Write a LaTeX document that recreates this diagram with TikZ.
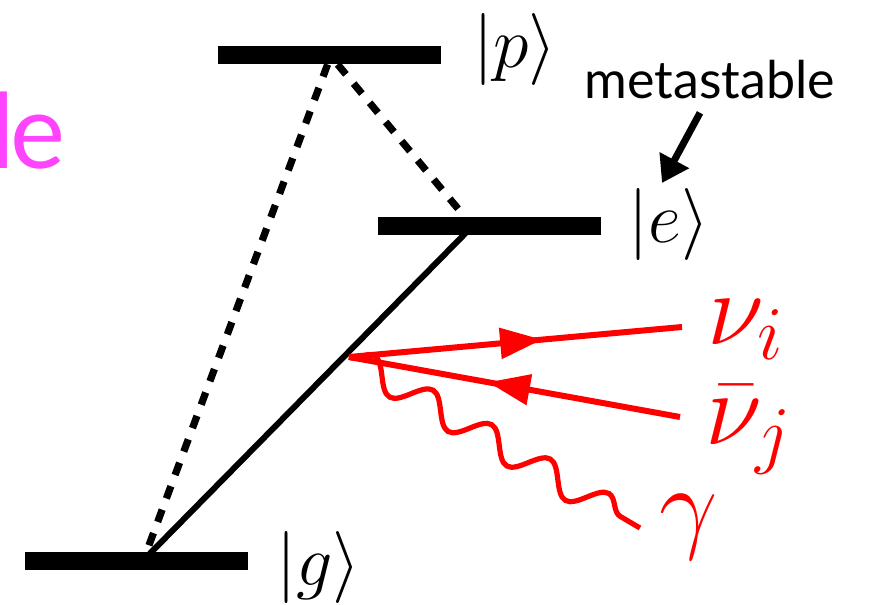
\RequirePackage{fix-cm}
\documentclass[tikz,border=0pt]{standalone}
\usepackage{amsmath}
\usepackage{fontspec}
\newfontfamily\gillish{Lato}
\usepackage{tikz}
\usetikzlibrary{arrows.meta,decorations.pathmorphing,decorations.markings,calc}
\definecolor{slidepink}{HTML}{FF44FF}
\DeclareMathSizes{52}{52}{38}{30}

\begin{document}
\begin{tikzpicture}[x=0.5pt,y=-0.5pt,
		level/.style={fill=black,inner sep=0pt,minimum width=111.5pt,minimum height=9pt},
		ket/.style={font=\fontsize{36}{40}\selectfont,anchor=base west,inner sep=0pt},
		particle/.style={red,font=\fontsize{52}{56}\selectfont,anchor=base west,inner sep=0pt},
		decay/.style={line width=3.6pt,dash pattern=on 6.5pt off 6pt},
		fermion/.style={red,line width=3pt,postaction={decorate},
			decoration={markings,mark=at position #1 with {\arrow{Triangle[length=21pt,width=15pt]}}}},
		photon/.style={red,line width=2.6pt,decorate,decoration={snake,segment length=34pt,amplitude=7pt}}]
			\useasboundingbox (0,0) rectangle (873,605);
			\node[font=\gillish\fontsize{52}{56}\selectfont,text=slidepink,anchor=base east,inner sep=0pt] (title) at (66,168) {l\kern-2pt e};
			\node[level] (p) at (329.5,55) {};
			\node[level] (e) at (489.5,226) {};
			\node[level] (g) at (136.5,561) {};
			\node[ket] (pket) at (473,67) {$|p\rangle$};
			\node[ket] (eket) at (628,242) {$|e\rangle$};
			\node[ket] (gket) at (276,585) {$|g\rangle$};
			\node[font=\gillish\fontsize{26}{30}\selectfont,anchor=base,inner sep=0pt] (meta) at (710,98) {metastable};
			\coordinate (metatip) at (662,183);
			\draw[line width=3.5pt,-{Triangle[length=13pt,width=16pt]}] ($(meta.south)+(-10,14)$) -- (metatip);
			\draw[decay] ($(p.south west)+(110,0)$) -- ($(g.north west)+(122,0)$);
			\draw[decay] ($(p.south west)+(120,0)$) -- ($(e.north west)+(87,0)$);
			\draw[line width=3pt] ($(e.west)+(95,0)$) -- ($(g.west)+(118,0)$);
			\coordinate (v) at (349,357);
			\coordinate (nuiend) at (682,327);
			\coordinate (nujend) at (680,417);
			\coordinate (gamend) at (640,528);
			\draw[fermion=0.58] (v) -- (nuiend);
			\draw[fermion=0.58] (nujend) -- (v);
			\draw[photon] (v) -- (gamend);
			\node[particle] (nui) at (707,344) {$\nu_i$};
			\node[particle] (nuj) at (705,444) {$\bar\nu_j$};
			\node[particle] (gam) at (659,539) {$\gamma$};
		\end{tikzpicture}
\end{document}
